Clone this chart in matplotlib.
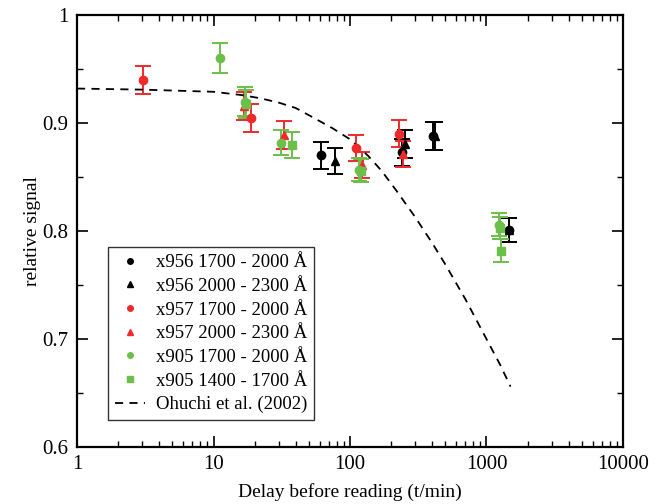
import matplotlib
matplotlib.use("Agg")
import matplotlib.pyplot as plt
from matplotlib.ticker import FormatStrFormatter, MultipleLocator

plt.rcParams['font.family'] = ['Liberation Serif', 'DejaVu Serif']

# x956 1700 - 2000 A (black circles)
t_956a = [61, 239, 408, 1452]
y_956a = [0.870, 0.873, 0.888, 0.801]
e_956a = [0.0125, 0.0125, 0.013, 0.011]
# x956 2000 - 2300 A (black triangles)
t_956b = [77, 252, 420, 1460]
y_956b = [0.865, 0.881, 0.888, 0.801]
e_956b = [0.012, 0.013, 0.013, 0.011]
# x957 1700 - 2000 A (red circles)
t_957a = [3.03, 18.7, 110, 230]
y_957a = [0.940, 0.905, 0.877, 0.890]
e_957a = [0.013, 0.013, 0.012, 0.0125]
# x957 2000 - 2300 A (red triangles)
t_957b = [16.8, 32.8, 123, 245]
y_957b = [0.916, 0.889, 0.861, 0.871]
e_957b = [0.013, 0.013, 0.012, 0.012]
# x905 1700 - 2000 A (green circles)
t_905a = [11.2, 17.1, 31.1, 116, 1235]
y_905a = [0.960, 0.920, 0.882, 0.857, 0.806]
e_905a = [0.014, 0.0135, 0.012, 0.011, 0.011]
# x905 1400 - 1700 A (green squares)
t_905b = [17.3, 37.4, 121, 1250, 1277]
y_905b = [0.918, 0.880, 0.856, 0.803, 0.782]
e_905b = [0.013, 0.012, 0.011, 0.010, 0.011]

# Ohuchi et al. (2002) curve
t_ohu = [1, 3, 10, 16, 22, 30, 40, 54, 75, 100, 135, 170, 220, 300, 400, 500, 700,
         1000, 1250, 1500]
y_ohu = [0.932, 0.931, 0.929, 0.926, 0.923, 0.919, 0.914, 0.905, 0.895, 0.885, 0.870,
         0.856, 0.837, 0.813, 0.789, 0.769, 0.737, 0.700, 0.677, 0.656]

BLACK = 'black'
RED = '#ee2a2a'
GREEN = '#6cbf4a'

fig = plt.figure(figsize=(6.61, 5.04), dpi=100)
ax = fig.add_axes([0.1165, 0.113, 0.826, 0.857])

series = [
    (t_956a, y_956a, e_956a, BLACK, 'o', 'x956 1700 - 2000 Å'),
    (t_956b, y_956b, e_956b, BLACK, '^', 'x956 2000 - 2300 Å'),
    (t_957a, y_957a, e_957a, RED, 'o', 'x957 1700 - 2000 Å'),
    (t_957b, y_957b, e_957b, RED, '^', 'x957 2000 - 2300 Å'),
    (t_905a, y_905a, e_905a, GREEN, 'o', 'x905 1700 - 2000 Å'),
    (t_905b, y_905b, e_905b, GREEN, 's', 'x905 1400 - 1700 Å'),
]
handles = []
for t, y, e, c, m, lab in series:
    ax.errorbar(t, y, yerr=e, fmt=m, color=c, ms=6 if m != 's' else 5.5,
                elinewidth=1.4, capsize=5.5, capthick=1.4)
    h, = ax.plot([], [], m, color=c, ms=4, label=lab)
    handles.append(h)

h, = ax.plot(t_ohu, y_ohu, '--', color='black', lw=1.3, dashes=(4.5, 3.5),
             label='Ohuchi et al. (2002)')
handles.append(h)

ax.set_xscale('log')
ax.set_xlim(1, 10000)
ax.set_ylim(0.6, 1.0)
ax.set_xticks([1, 10, 100, 1000, 10000])
ax.set_xticklabels(['1', '10', '100', '1000', '10000'])
ax.yaxis.set_major_locator(MultipleLocator(0.1))
ax.yaxis.set_minor_locator(MultipleLocator(0.05))
ax.yaxis.set_major_formatter(FormatStrFormatter('%g'))
ax.tick_params(which='both', direction='in', top=True, right=True, labelsize=15)
ax.tick_params(which='major', length=8, width=1.2, pad=6)
ax.tick_params(which='minor', length=4, width=1.0)
for s in ax.spines.values():
    s.set_linewidth(1.6)

ax.set_xlabel('Delay before reading (t/min)', fontsize=14, labelpad=6)
ax.set_ylabel('relative signal', fontsize=14, labelpad=1)

leg = ax.legend(handles=handles, loc='lower left', bbox_to_anchor=(0.057, 0.0625),
                borderaxespad=0, fontsize=13.5, frameon=True, fancybox=False,
                edgecolor='black', handlelength=1.6, handletextpad=0.6,
                labelspacing=0.35, borderpad=0.35)
leg.get_frame().set_linewidth(1.0)

fig.savefig('out.png', dpi=100)
